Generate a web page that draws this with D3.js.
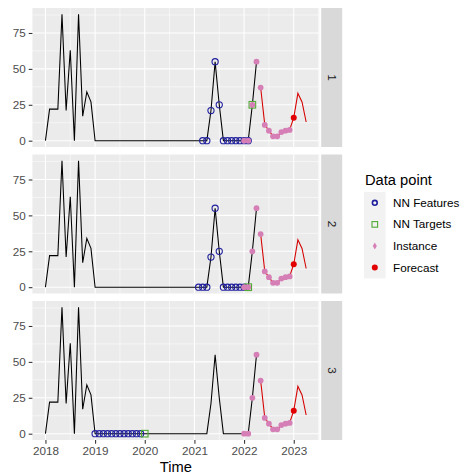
<!DOCTYPE html>
<html>
<head>
<meta charset="utf-8">
<script src="https://cdn.jsdelivr.net/npm/d3@7/dist/d3.min.js"></script>
<style>
body{margin:0;background:#fff;}
text{font-family:"Liberation Sans",Arial,sans-serif;}
</style>
</head>
<body>
<div id="chart"></div>
<script>
// monthly data, index 0 = Jan 2018
var startYear = 2018;
var seriesValues = [0,22,22,22,88,21,63,0,88,17,34,27,
    0,0,0,0,0,0,0,0,0,0,0,0,
    0,0,0,0,0,0,0,0,0,0,0,0,
    0,0,0,0,21,55,25,0,0,0,0,0,
    0,0,25,55];                       // Jan 2018 .. Apr 2022 (black)
var futureValues = [37,11,7,3,3,6,7,7.5,16,33,27,13];  // May 2022 .. Apr 2023 (red)
var panelLabels = ['1','2','3'];
var targetMonths = [50,49,24];        // NN target per panel
var nLags = 12;
var instanceStart = 48;               // Jan 2022
var forecastMonth = 60;               // Jan 2023
var forecastValue = 16;
var xTicks = [2018,2019,2020,2021,2022,2023];
var yTicks = [0,25,50,75];
var legendLabels = ['NN Features','NN Targets','Instance','Forecast'];

var colFeat = '#1f1f9e', colTarg = '#4faa33', colInst = '#d57fb6', colFc = '#e30000', colRed = '#d60000';

var allValues = seriesValues.concat(futureValues);
function t(m){ return startYear + m/12; }

var W = 461, H = 475;
var panelL = 32.4, panelR = 319.2, panelH = 139;
var panelTops = [8, 154.5, 301];

var svg = d3.select('#chart').append('svg').attr('width', W).attr('height', H);

var tMax = t(allValues.length - 1), tMin = t(0);
var xPad = (tMax - tMin)*0.05;
var x = d3.scaleLinear().domain([tMin - xPad, tMax + xPad]).range([panelL, panelR]);
var vMax = d3.max(allValues), yPad = vMax*0.05;

var line = d3.line().x(function(d){ return x(t(d.m)); }).y(function(d){ return d.y; });

function pts(from, to){
    var out = [];
    for (var m = from; m <= to; m++) out.push({m: m, v: allValues[m]});
    return out;
}

panelLabels.forEach(function(lab, i){
    var top = panelTops[i];
    var y = d3.scaleLinear().domain([-yPad, vMax + yPad]).range([top + panelH, top]);
    var g = svg.append('g');

    g.append('rect').attr('x', panelL).attr('y', top).attr('width', panelR - panelL).attr('height', panelH).attr('fill', '#ebebeb');

    var xMinor = d3.range(startYear - 0.5, tMax + xPad, 1).filter(function(d){ return d > x.domain()[0]; });
    var yMinor = [12.5,37.5,62.5,87.5];
    g.selectAll('.xm').data(xMinor).enter().append('line')
        .attr('x1', x).attr('x2', x).attr('y1', top).attr('y2', top + panelH)
        .attr('stroke', '#fff').attr('stroke-width', 0.53);
    g.selectAll('.ym').data(yMinor).enter().append('line')
        .attr('x1', panelL).attr('x2', panelR).attr('y1', y).attr('y2', y)
        .attr('stroke', '#fff').attr('stroke-width', 0.53);
    g.selectAll('.xg').data(xTicks).enter().append('line')
        .attr('x1', x).attr('x2', x).attr('y1', top).attr('y2', top + panelH)
        .attr('stroke', '#fff').attr('stroke-width', 1.07);
    g.selectAll('.yg').data(yTicks).enter().append('line')
        .attr('x1', panelL).attr('x2', panelR).attr('y1', y).attr('y2', y)
        .attr('stroke', '#fff').attr('stroke-width', 1.07);

    // y axis
    var ya = svg.append('g').attr('transform', 'translate(' + panelL + ',0)')
        .call(d3.axisLeft(y).tickValues(yTicks).tickSize(3.67).tickPadding(2.9));
    ya.select('.domain').remove();
    ya.selectAll('line').attr('stroke', '#333').attr('stroke-width', 1.07);
    ya.selectAll('text').attr('fill', '#4d4d4d').attr('font-size', '11.7px').style('font-family', '"Liberation Sans",Arial,sans-serif');

    // strip
    svg.append('rect').attr('x', panelR + 2).attr('y', top).attr('width', 21).attr('height', panelH).attr('fill', '#d9d9d9');
    svg.append('text').attr('transform', 'translate(' + (panelR + 12.5) + ',' + (top + panelH/2) + ') rotate(90)')
        .attr('text-anchor', 'middle').attr('dy', '0.35em').attr('font-size', '11.7px').attr('fill', '#1a1a1a').text(lab);

    var mapY = function(d){ d.y = y(d.v); return d; };

    g.append('path').datum(pts(0, seriesValues.length - 1).map(mapY)).attr('d', line)
        .attr('fill', 'none').attr('stroke', '#000').attr('stroke-width', 1.07);
    g.append('path').datum(pts(seriesValues.length, allValues.length - 1).map(mapY)).attr('d', line)
        .attr('fill', 'none').attr('stroke', colRed).attr('stroke-width', 1.07);

    var tm = targetMonths[i];
    g.selectAll('.feat').data(pts(tm - nLags, tm - 1)).enter().append('circle')
        .attr('cx', function(d){ return x(t(d.m)); }).attr('cy', function(d){ return y(d.v); })
        .attr('r', 3.1).attr('fill', 'none').attr('stroke', colFeat).attr('stroke-width', 1.1);
    g.selectAll('.targ').data(pts(tm, tm)).enter().append('rect')
        .attr('x', function(d){ return x(t(d.m)) - 3.3; }).attr('y', function(d){ return y(d.v) - 3.3; })
        .attr('width', 6.6).attr('height', 6.6).attr('fill', 'none').attr('stroke', colTarg).attr('stroke-width', 1.1);
    g.selectAll('.inst').data(pts(instanceStart, instanceStart + nLags - 1)).enter().append('circle')
        .attr('cx', function(d){ return x(t(d.m)); }).attr('cy', function(d){ return y(d.v); })
        .attr('r', 2.9).attr('fill', colInst);
    g.append('circle').attr('cx', x(t(forecastMonth))).attr('cy', y(forecastValue)).attr('r', 3).attr('fill', colFc);
});

// x axis
var bottom = panelTops[2] + panelH;
var xa = svg.append('g').attr('transform', 'translate(0,' + bottom + ')')
    .call(d3.axisBottom(x).tickValues(xTicks).tickFormat(d3.format('d')).tickSize(3.67).tickPadding(2.9));
xa.select('.domain').remove();
xa.selectAll('line').attr('stroke', '#333').attr('stroke-width', 1.07);
xa.selectAll('text').attr('fill', '#4d4d4d').attr('font-size', '11.7px').style('font-family', '"Liberation Sans",Arial,sans-serif');

svg.append('text').attr('x', (panelL + panelR)/2).attr('y', 472).attr('text-anchor', 'middle')
    .attr('font-size', '14.7px').attr('fill', '#000').text('Time');

// legend
var lg = svg.append('g').attr('transform', 'translate(364,0)');
lg.append('text').attr('x', 1).attr('y', 185).attr('font-size', '14.7px').attr('fill', '#000').text('Data point');
lg.append('rect').attr('x', 0).attr('y', 192).attr('width', 21.6).attr('height', 21.6*legendLabels.length).attr('fill', '#f2f2f2');
legendLabels.forEach(function(lab, i){
    var cy = 192 + 21.6*i + 10.8, cx = 10.8;
    if (i == 0) lg.append('circle').attr('cx', cx).attr('cy', cy).attr('r', 2.4).attr('fill', 'none').attr('stroke', colFeat).attr('stroke-width', 1.6);
    if (i == 1) lg.append('rect').attr('x', cx - 2.8).attr('y', cy - 2.8).attr('width', 5.6).attr('height', 5.6).attr('fill', 'none').attr('stroke', colTarg).attr('stroke-width', 1.1);
    if (i == 2) lg.append('path').attr('d', d3.symbol(d3.symbolDiamond, 14)()).attr('transform', 'translate(' + cx + ',' + cy + ')').attr('fill', colInst);
    if (i == 3) lg.append('circle').attr('cx', cx).attr('cy', cy).attr('r', 3).attr('fill', colFc);
    lg.append('text').attr('x', 29).attr('y', cy).attr('dy', '0.35em').attr('font-size', '11.7px').attr('fill', '#000').text(lab);
});
</script>
</body>
</html>
